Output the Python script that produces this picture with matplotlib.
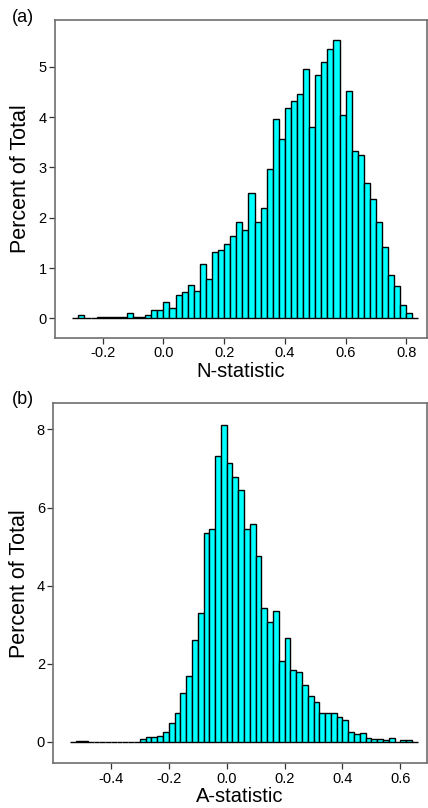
import matplotlib
matplotlib.use("Agg")
import matplotlib.pyplot as plt
import numpy as np

plt.rcParams["font.family"] = ["Liberation Sans", "DejaVu Sans"]

# N-statistic histogram, bins of 0.02 starting at -0.30
n_start = -0.30
n_pct = [0, 0.06, 0, 0, 0.02, 0.02, 0.02, 0.02, 0.02, 0.11, 0.02, 0.02, 0.06,
         0.17, 0.17, 0.32, 0.20, 0.46, 0.53, 0.67, 0.55, 1.08, 0.79, 1.31, 1.35,
         1.48, 1.64, 1.91, 1.76, 2.49, 1.91, 2.20, 2.96, 3.96, 3.57, 4.19, 4.33,
         4.45, 4.95, 3.80, 4.83, 5.10, 5.36, 5.54, 4.04, 4.51, 3.33, 3.25, 2.69,
         2.38, 1.91, 1.41, 0.87, 0.64, 0.27, 0.11, 0]

# A-statistic histogram, bins of 0.02 starting at -0.54
a_start = -0.54
a_pct = [0, 0.03, 0.03, 0, 0, 0, 0, 0, 0, 0, 0, 0,
         0.06, 0.12, 0.12, 0.15, 0.26, 0.47, 0.75, 1.25, 1.68, 2.62, 3.31, 5.34,
         5.46, 7.32, 8.11, 7.15, 6.77, 6.45, 5.46, 5.57, 4.77, 3.42, 3.06, 3.34,
         2.06, 2.67, 1.83, 1.79, 1.45, 1.17, 1.01, 0.73, 0.75, 0.73, 0.63, 0.55,
         0.26, 0.21, 0.23, 0.11, 0.08, 0.08, 0.05, 0.09, 0, 0.05, 0.05, 0]

binw = 0.02

n_ticks = [-0.2, 0.0, 0.2, 0.4, 0.6, 0.8]
a_ticks = [-0.4, -0.2, 0.0, 0.2, 0.4, 0.6]

fig = plt.figure(figsize=(4.28, 8.08), dpi=100)
ax1 = fig.add_axes([55 / 428, 1 - 338 / 808, 372 / 428, 318 / 808])
ax2 = fig.add_axes([53.3 / 428, 1 - 763.3 / 808, 373.7 / 428, 360 / 808])


def style(ax):
    for s in ax.spines.values():
        s.set_color("#6e6e6e")
        s.set_linewidth(1.2)
    ax.tick_params(top=False, right=False, direction="out", length=4,
                   width=0.9, color="#333333", labelsize=10.5, pad=2)


def hist(ax, start, pct):
    left = start + binw * np.arange(len(pct))
    ax.bar(left, pct, width=binw, align="edge", color="#00ffff",
           edgecolor="black", linewidth=1.0)


hist(ax1, n_start, n_pct)
ax1.set_xlim(-0.357, 0.868)
ax1.set_ylim(-0.39, 5.93)
ax1.set_xticks(n_ticks)
ax1.set_xticklabels(["%.1f" % t for t in n_ticks])
ax1.set_yticks([0, 1, 2, 3, 4, 5])
ax1.set_xlabel("N-statistic", fontsize=14.5, labelpad=1)
ax1.set_ylabel("Percent of Total", fontsize=15.5, labelpad=5)
style(ax1)

hist(ax2, a_start, a_pct)
ax2.set_xlim(-0.599, 0.692)
ax2.set_ylim(-0.55, 8.67)
ax2.set_xticks(a_ticks)
ax2.set_xticklabels(["%.1f" % t for t in a_ticks])
ax2.set_yticks([0, 2, 4, 6, 8])
ax2.set_xlabel("A-statistic", fontsize=14.5, labelpad=1)
ax2.set_ylabel("Percent of Total", fontsize=15.5, labelpad=5)
style(ax2)

fig.text(12 / 428, 1 - 18 / 808, "(a)", fontsize=13, va="center", ha="left")
fig.text(12 / 428, 1 - 400 / 808, "(b)", fontsize=13, va="center", ha="left")

fig.savefig("out.png", dpi=100)
